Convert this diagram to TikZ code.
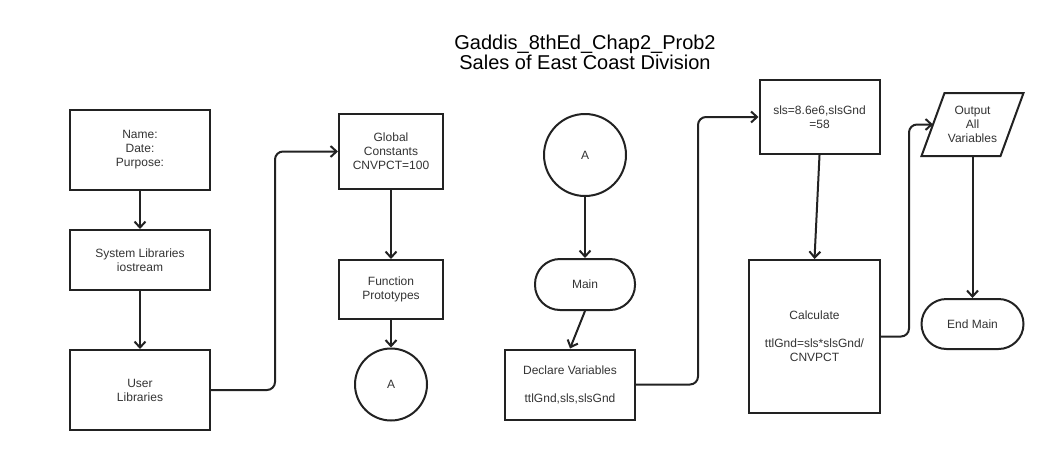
\documentclass[tikz,border=0pt]{standalone}
\usepackage{fontspec}
\setmainfont{Liberation Sans}
\usetikzlibrary{arrows.meta,shapes.geometric,calc}
\definecolor{ln}{HTML}{222222}
\definecolor{tx}{HTML}{333333}
\begin{document}
\begin{tikzpicture}[x=1pt,y=-1pt,
  box/.style={draw=ln,line width=2pt,rectangle,align=center,inner sep=0pt,font=\fontsize{12}{14}\selectfont,text=tx},
  term/.style={box,rounded corners=25pt},
  conn/.style={circle,draw=ln,line width=2pt,inner sep=0pt,font=\fontsize{12}{14}\selectfont,text=tx},
  arr/.style={draw=ln,line width=2pt,-{Straight Barb[length=6pt,width=11pt]}},
]
\useasboundingbox (0,0) rectangle (1048,450);
\node[font=\fontsize{20}{20}\selectfont,align=center,text=black] (title) at (585,52) {Gaddis\_8thEd\_Chap2\_Prob2\\Sales of East Coast Division};
\node[box,minimum width=140pt,minimum height=80pt] (info) at (140,150) {Name:\\Date:\\Purpose:};
\node[box,minimum width=140pt,minimum height=60pt] (sys) at (140,260) {System Libraries\\iostream};
\node[box,minimum width=140pt,minimum height=80pt] (usr) at (140,390) {User\\Libraries};
\node[box,minimum width=104pt,minimum height=75pt] (glob) at (391,151.5) {Global\\Constants\\CNVPCT=100};
\node[box,minimum width=104pt,minimum height=59pt] (func) at (391,289.5) {Function\\Prototypes};
\node[conn,minimum size=72pt] (a1) at (391,384.5) {A};
\node[conn,minimum size=82pt] (a2) at (585,155) {A};
\node[term,minimum width=100pt,minimum height=51pt] (main) at (585,284.5) {Main};
\node[box,minimum width=130pt,minimum height=70pt] (decl) at (570,384.5) {Declare Variables\\[14pt]ttlGnd,sls,slsGnd};
\node[box,minimum width=120pt,minimum height=74pt] (sls) at (819.5,117) {sls=8.6e6,slsGnd\\=58};
\node[box,minimum width=131pt,minimum height=153pt] (calc) at (814.5,336.5) {Calculate\\[14pt]ttlGnd=sls*slsGnd/\\CNVPCT};
\node[box,draw=none,minimum width=77pt,minimum height=61pt] (out) at (972.5,124.5) {Output\\All\\Variables};
\draw[draw=ln,line width=2pt,line join=miter] ([xshift=-11.5pt]out.south west) -- ([xshift=11.5pt]out.north west) -- ([xshift=11.5pt]out.north east) -- ([xshift=-11.5pt]out.south east) -- cycle;
\node[term,minimum width=102pt,minimum height=50pt] (endm) at (972.5,324) {End Main};
\draw[arr] (info) -- (sys);
\draw[arr] (sys) -- (usr);
\draw[arr,rounded corners=8pt] (usr.east) -- ++(64,0) |- (glob.west);
\draw[arr] (glob) -- (func);
\draw[arr] (func) -- (a1);
\draw[arr] (a2) -- (main);
\draw[arr] (main.south) -- (decl.north);
\draw[arr,rounded corners=8pt] (decl.east) -- ++(62,0) |- (sls.west);
\draw[arr] (sls.south) -- (calc.north);
\draw[arr,rounded corners=8pt] (calc.east) -- ++(28,0) |- (out.west);
\draw[arr] (out) -- (endm);
\end{tikzpicture}
\end{document}
